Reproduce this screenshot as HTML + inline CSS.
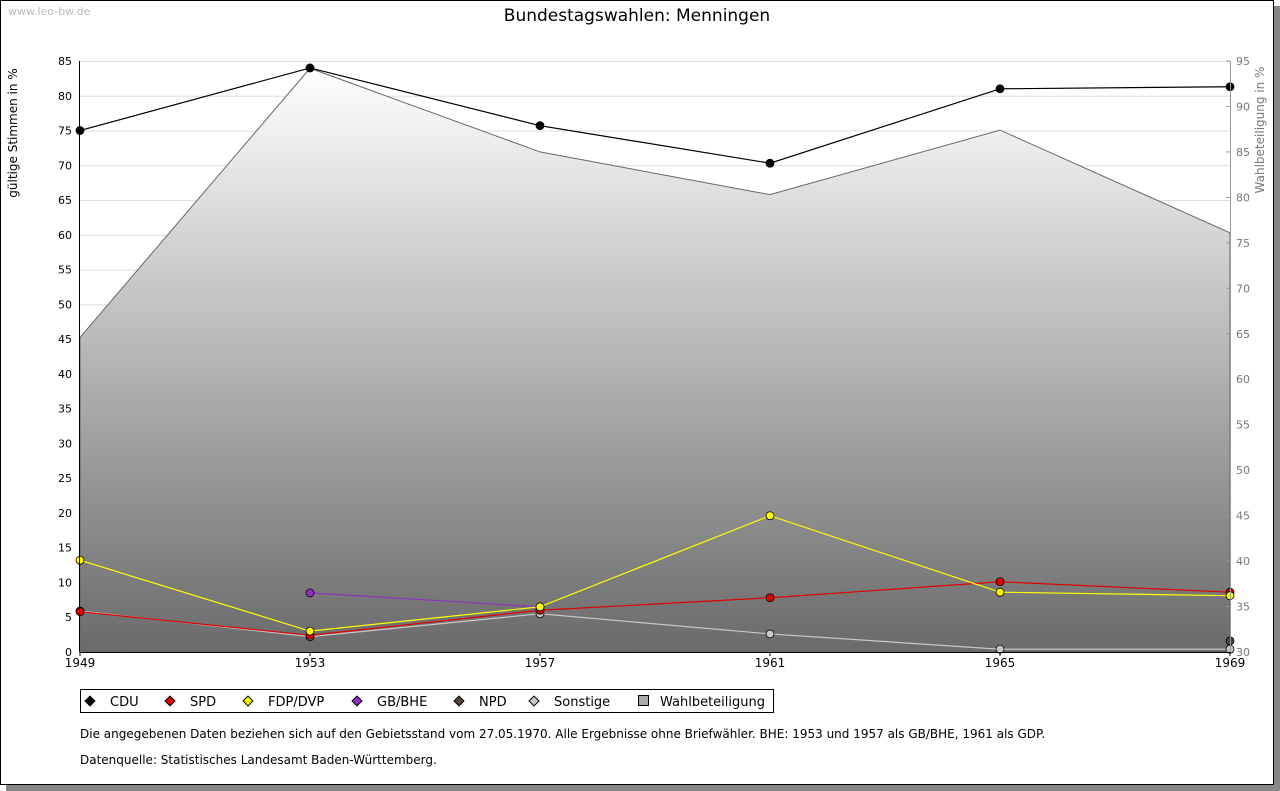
<!DOCTYPE html>
<html><head><meta charset="utf-8"><style>
body{margin:0;background:#fff;font-family:"Liberation Sans","DejaVu Sans",sans-serif;}
svg{display:block}
</style></head><body>
<svg id="c" width="1280" height="791" xmlns="http://www.w3.org/2000/svg" font-family="DejaVu Sans, Liberation Sans, sans-serif">
<defs><linearGradient id="g" x1="0" y1="0" x2="0" y2="1"><stop offset="0" stop-color="#ffffff"/><stop offset="1" stop-color="#6a6a6a"/></linearGradient></defs>
<rect x="6" y="6" width="1274" height="785" fill="#888"/>
<rect x="0.5" y="0.5" width="1273" height="784" fill="#fff" stroke="#000"/>
<text x="8" y="15" font-size="11" fill="#bbb">www.leo-bw.de</text>
<text x="637" y="21" font-size="17" text-anchor="middle">Bundestagswahlen: Menningen</text>
<text transform="translate(17,133) rotate(-90)" font-size="12" text-anchor="middle">gültige Stimmen in %</text>
<text transform="translate(1264,130) rotate(-90)" font-size="12" fill="#777" text-anchor="middle">Wahlbeteiligung in %</text>
<g id="grid"></g><g id="area"></g><g id="series"></g><g id="axes"></g>
<rect x="80.5" y="689.5" width="693" height="23" fill="#fff" stroke="#000"/>
<g id="legend"></g>
<text x="80" y="738" font-size="12">Die angegebenen Daten beziehen sich auf den Gebietsstand vom 27.05.1970. Alle Ergebnisse ohne Briefwähler. BHE: 1953 und 1957 als GB/BHE, 1961 als GDP.</text>
<text x="80" y="764" font-size="12">Datenquelle: Statistisches Landesamt Baden-Württemberg.</text>
</svg>
<script>
const years=[1949,1953,1957,1961,1965,1969];
const turnout=[64.6,94.2,85.0,80.3,87.4,76.1];
const cdu=[75.0,84.0,75.7,70.3,81.0,81.3];
const spd=[5.8,2.4,6.0,7.8,10.1,8.6];
const fdp=[13.2,3.0,6.5,19.6,8.6,8.1];
const bhe=[null,8.5,6.5,null,null,null];
const npd=[null,null,null,null,null,1.6];
const sonst=[5.9,2.2,5.5,2.6,0.4,0.4];
const yTicks=[0,5,10,15,20,25,30,35,40,45,50,55,60,65,70,75,80,85];
const y2Ticks=[30,35,40,45,50,55,60,65,70,75,80,85,90,95];
const NS="http://www.w3.org/2000/svg";
const X0=80,X1=1230,Y0=652,Y1=61;
const x=i=>X0+(X1-X0)*i/(years.length-1);
const y=v=>Y0-(Y0-Y1)*v/85;
const y2=v=>Y0-(Y0-Y1)*(v-30)/65;
function mk(p,t,a){const e=document.createElementNS(NS,t);for(const k in a)e.setAttribute(k,a[k]);document.getElementById(p).appendChild(e);return e;}
yTicks.forEach(v=>{
 const l=mk('grid','line',{x1:X0,x2:X1,y1:y(v)+.5,y2:y(v)+.5,stroke:'#ddd'});
 
 
 const t=mk('axes','text',{x:X0-8,y:y(v)+4,'font-size':11,'text-anchor':'end'});t.textContent=v;
 
 
});
y2Ticks.forEach(v=>{
 const t=mk('axes','text',{x:X1+6,y:y2(v)+4,'font-size':11,fill:'#777'});t.textContent=v;
 
 
 mk('axes','line',{x1:X1,x2:X1-4,y1:y2(v),y2:y2(v),stroke:'#999'});
});
let d='M'+x(0)+','+Y0;turnout.forEach((v,i)=>d+=' L'+x(i)+','+y2(v));d+=' L'+x(years.length-1)+','+Y0+'Z';
const a=mk('area','path',{d:d,fill:'url(#g)',stroke:'#666'});


mk('axes','line',{x1:X0-.5,x2:X0-.5,y1:Y1,y2:Y0,stroke:'#000'});
mk('axes','line',{x1:X1+.5,x2:X1+.5,y1:Y1,y2:Y0,stroke:'#999'});
mk('axes','line',{x1:X0,x2:X1,y1:Y0+.5,y2:Y0+.5,stroke:'#000'});
years.forEach((yr,i)=>{
 mk('axes','line',{x1:x(i),x2:x(i),y1:Y0,y2:Y0+4,stroke:'#000'});
 const t=mk('axes','text',{x:x(i),y:Y0+15,'font-size':12,'text-anchor':'middle'});t.textContent=yr;
 
 
});
const series=[['sonstige',sonst,'#c8c8c8'],['npd',npd,'#5a4030'],['spd',spd,'#e00000'],['bhe',bhe,'#9030c0'],['fdp',fdp,'#ffff00'],['cdu',cdu,'#000000']];
series.forEach(([n,arr,c])=>{
 let p='';arr.forEach((v,i)=>{if(v!=null)p+=(p?' L':'M')+x(i)+','+y(v);});
 const l=mk('series','path',{d:p,fill:'none',stroke:c==='#000000'?'#000':c,'stroke-width':1.2});
 
 
 arr.forEach((v,i)=>{if(v==null)return;
  const m=mk('series','circle',{cx:x(i),cy:y(v),r:4,fill:c,stroke:'#000','stroke-width':.8});
  
  
 });
});
const leg=[['CDU','#000',90],['SPD','#e00000',170],['FDP/DVP','#ffff00',248],['GB/BHE','#9030c0',357],['NPD','#5a4030',459],['Sonstige','#c8c8c8',534]];
leg.forEach(([t,c,lx])=>{
 const m=mk('legend','rect',{x:lx-3.5,y:697.5,width:7,height:7,fill:c,stroke:'#000',transform:'rotate(45 '+lx+' 701)'});
 
 
 const e=mk('legend','text',{x:lx+20,y:706,'font-size':13});e.textContent=t;
 
 
});
const s=mk('legend','rect',{x:638.5,y:695.5,width:10,height:10,fill:'#aaa',stroke:'#000'});


const e=mk('legend','text',{x:660,y:706,'font-size':13});e.textContent='Wahlbeteiligung';


</script>
</body></html>
